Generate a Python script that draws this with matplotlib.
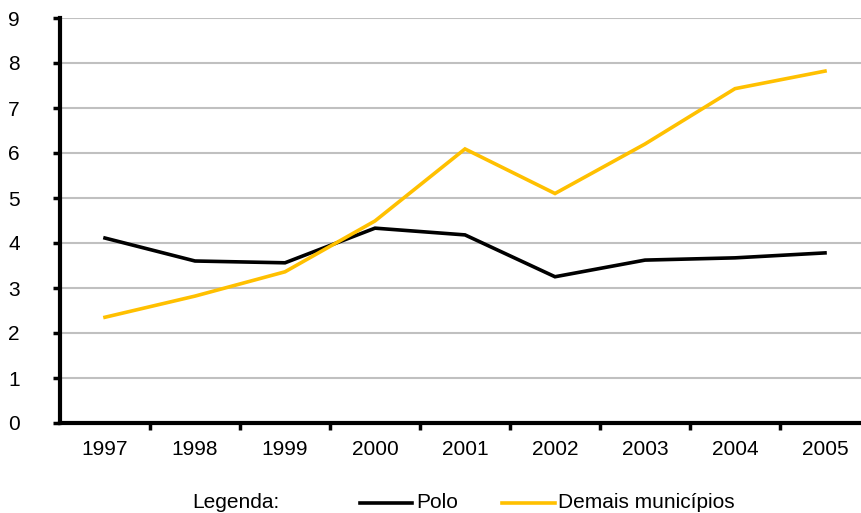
import matplotlib
matplotlib.use("Agg")
import matplotlib.pyplot as plt
from matplotlib.lines import Line2D

years = ["1997", "1998", "1999", "2000", "2001", "2002", "2003", "2004", "2005"]
polo = [4.11, 3.60, 3.56, 4.33, 4.18, 3.25, 3.62, 3.67, 3.78]
demais = [2.35, 2.82, 3.36, 4.49, 6.09, 5.10, 6.20, 7.43, 7.82]
series_names = ["Polo", "Demais municípios"]
legend_title = "Legenda:"

plt.rcParams["font.family"] = ["Liberation Sans", "DejaVu Sans"]
FS = 15

W, H = 862, 513
fig = plt.figure(figsize=(W / 100, H / 100), dpi=100)
# axes spans from x=60 to x=870 px (right edge runs past the figure), y 18..423 px
ax = fig.add_axes([60 / W, 1 - 423 / H, 810 / W, 405 / H])

x = list(range(len(years)))
ax.plot(x, polo, color="black", lw=2.6, solid_joinstyle="miter", zorder=3)
ax.plot(x, demais, color="#FFC000", lw=2.6, solid_joinstyle="miter", zorder=3)

ax.set_xlim(-0.5, len(years) - 0.5)
ax.set_ylim(0, 9)
ax.set_yticks(range(0, 10))
ax.yaxis.grid(True, color="#c0c0c0", lw=1.5)
ax.set_axisbelow(True)

# category labels centred, tick marks between categories
ax.set_xticks([i + 0.5 for i in range(len(years) - 1)])
ax.set_xticklabels([])
ax.set_xticks(x, minor=True)
ax.set_xticklabels(years, minor=True)
ax.tick_params(axis="x", which="minor", length=0, pad=12, labelsize=FS)
ax.tick_params(axis="x", which="major", length=5, width=2.5, direction="out")
ax.tick_params(axis="y", length=5, width=2.5, direction="out", pad=24, labelsize=FS)

for s in ["top", "right"]:
    ax.spines[s].set_visible(False)
for s in ["left", "bottom"]:
    ax.spines[s].set_linewidth(3)
    ax.spines[s].set_color("black")

# legend row at the bottom
fy = 1 - 503 / H
fig.text(192 / W, fy, legend_title, fontsize=FS, va="center", ha="left")
fig.add_artist(Line2D([360 / W, 412 / W], [fy, fy], color="black", lw=2.6,
                      transform=fig.transFigure))
fig.text(416 / W, fy, series_names[0], fontsize=FS, va="center", ha="left")
fig.add_artist(Line2D([502 / W, 555 / W], [fy, fy], color="#FFC000", lw=2.6,
                      transform=fig.transFigure))
fig.text(558 / W, fy, series_names[1], fontsize=FS, va="center", ha="left")

fig.savefig("out.png", dpi=100)
